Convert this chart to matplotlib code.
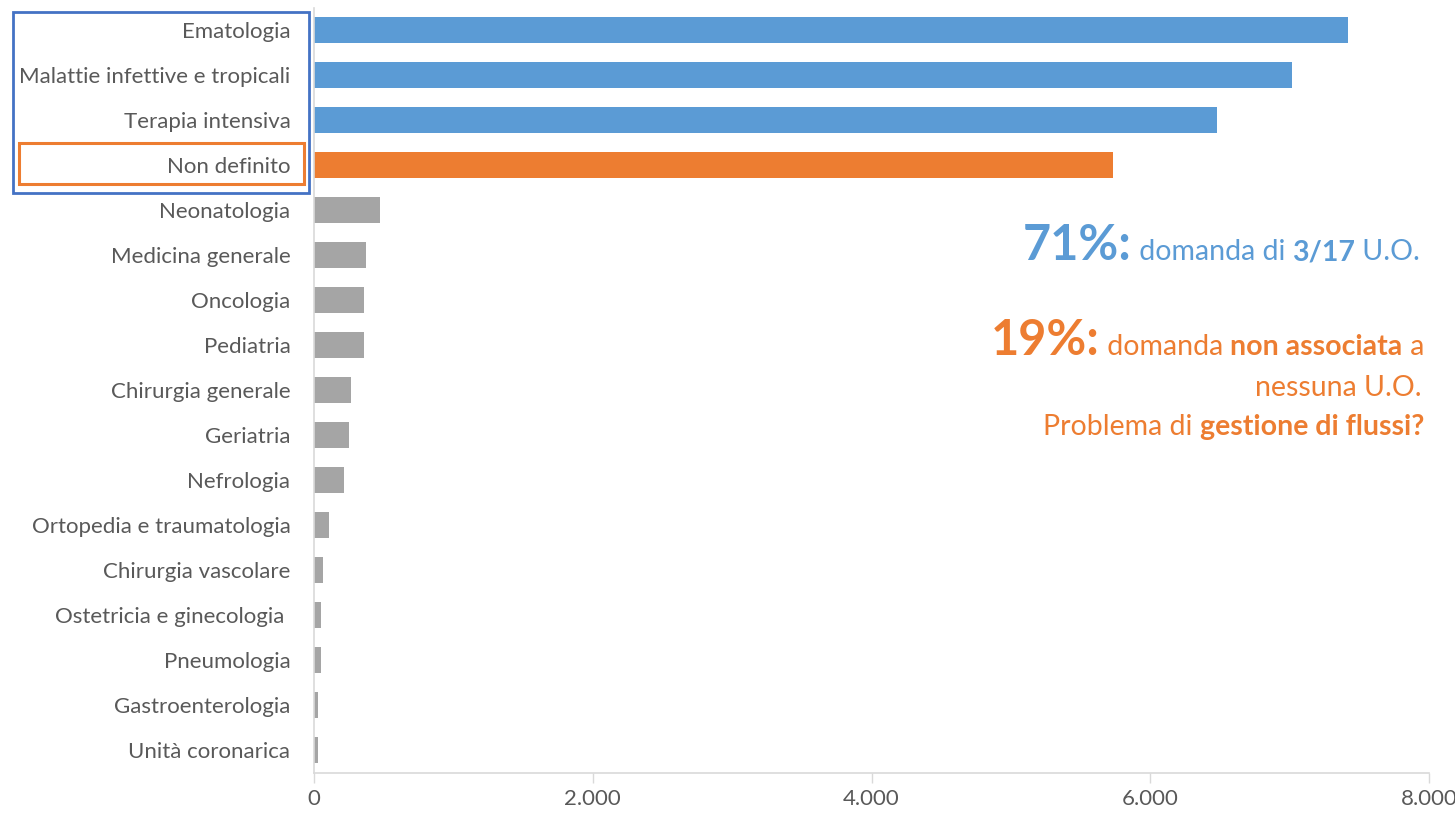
import matplotlib
matplotlib.use("Agg")
import matplotlib.pyplot as plt
from matplotlib.patches import Rectangle
from matplotlib.ticker import FuncFormatter

plt.rcParams['font.family'] = ['Lato', 'DejaVu Sans']

categories = ["Ematologia", "Malattie infettive e tropicali", "Terapia intensiva",
              "Non definito", "Neonatologia", "Medicina generale", "Oncologia",
              "Pediatria", "Chirurgia generale", "Geriatria", "Nefrologia",
              "Ortopedia e traumatologia", "Chirurgia vascolare",
              "Ostetricia e ginecologia ", "Pneumologia", "Gastroenterologia",
              "Unità coronarica"]
values = [7420, 7020, 6480, 5735, 474, 373, 359, 359, 265, 251, 212,
          105, 65, 52, 52, 27, 27]
groups = ["top", "top", "top", "undef"] + ["other"] * 13
xticks = [0, 2000, 4000, 6000, 8000]

BLUE = "#5B9BD5"
ORANGE = "#ED7D31"
GRAY = "#A5A5A5"
TXT = "#595959"
colors = {"top": BLUE, "undef": ORANGE, "other": GRAY}

W, H = 1455, 814
fig = plt.figure(figsize=(W / 100, H / 100), dpi=100)
ax = fig.add_axes([314 / W, 1 - 772.5 / H, (1429 - 314) / W, (772.5 - 7.5) / H])

ypos = list(range(len(categories)))
ax.barh(ypos, values, height=0.58, color=[colors[g] for g in groups])
ax.set_ylim(len(categories) - 0.5, -0.5)
ax.set_xlim(0, 8000)
ax.set_yticks(ypos)
ax.set_yticklabels(categories, fontsize=16, color=TXT)
ax.set_xticks(xticks)
ax.xaxis.set_major_formatter(FuncFormatter(lambda v, p: f"{int(v):,}".replace(",", ".")))
ax.tick_params(axis='x', colors="#D9D9D9", length=7, width=1, labelsize=16,
               labelcolor=TXT, pad=5)
ax.tick_params(axis='y', length=0, pad=17)
for s in ["top", "right"]:
    ax.spines[s].set_visible(False)
ax.spines["left"].set_color("#D9D9D9")
ax.spines["bottom"].set_color("#D9D9D9")
ax.spines["left"].set_linewidth(1.2)
ax.spines["bottom"].set_linewidth(1.2)

# highlight boxes (pixel coords, top-origin)
def box(x0, y0, x1, y1, color, lw):
    fig.patches.append(Rectangle((x0 / W, 1 - y1 / H), (x1 - x0) / W, (y1 - y0) / H,
                                 transform=fig.transFigure, fill=False,
                                 edgecolor=color, linewidth=lw))
box(12.5, 12, 308.5, 192.5, "#4472C4", 2.0)
box(19, 142.5, 303.5, 183.5, ORANGE, 2.2)

# rich right-aligned text
renderer = fig.canvas.get_renderer()
def rich_right(x_right, y_base, pieces):
    x = x_right
    for txt, size, weight, color in reversed(pieces):
        t = fig.text(0, 0, txt, fontsize=size, fontweight=weight, color=color,
                     ha='left', va='baseline', transform=None)
        w = t.get_window_extent(renderer).width
        x -= w
        t.set_position((x, H - y_base))

BIG, SMALL = 35, 20.5
rich_right(1420, 260, [("71%:", BIG, "bold", BLUE), (" domanda di ", SMALL, "normal", BLUE),
                       ("3/17", SMALL, "bold", BLUE), (" U.O.", SMALL, "normal", BLUE)])
rich_right(1424, 355, [("19%:", BIG, "bold", ORANGE), (" domanda ", SMALL, "normal", ORANGE),
                       ("non associata", SMALL, "bold", ORANGE), (" a", SMALL, "normal", ORANGE)])
rich_right(1422, 396, [("nessuna U.O.", SMALL, "normal", ORANGE)])
rich_right(1424, 435, [("Problema di ", SMALL, "normal", ORANGE),
                       ("gestione di flussi?", SMALL, "bold", ORANGE)])

fig.savefig("out.png", dpi=100)
